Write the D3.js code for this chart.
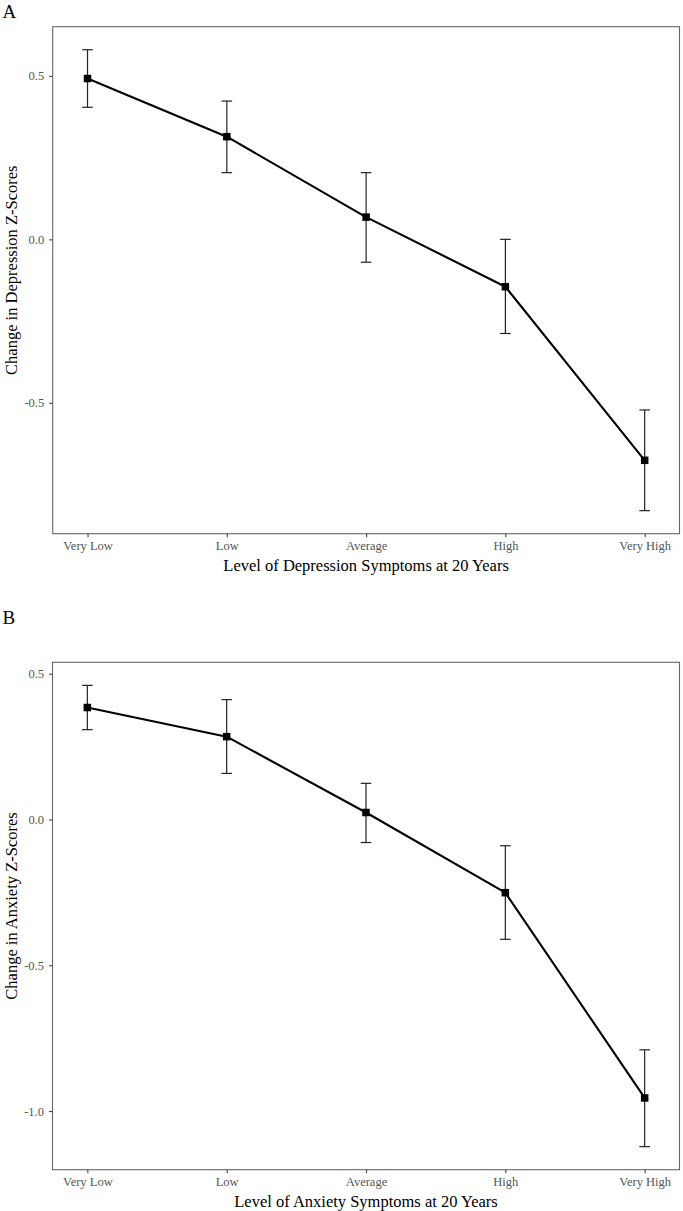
<!DOCTYPE html>
<html>
<head>
<meta charset="utf-8">
<script src="https://cdn.jsdelivr.net/npm/d3@7/dist/d3.min.js"></script>
<style>
  html, body { margin: 0; padding: 0; background: #fff; }
  svg { display: block; }
  text { font-family: "Liberation Serif", "Times New Roman", serif; }
</style>
</head>
<body>
<svg id="chart" width="683" height="1211"></svg>
<script>
// ---- data ----
const categories = ["Very Low", "Low", "Average", "High", "Very High"];

const depMean  = [0.492, 0.314, 0.068, -0.145, -0.676];
const depLower = [0.404, 0.204, -0.070, -0.288, -0.830];
const depUpper = [0.580, 0.423, 0.204, 0.000, -0.522];
const depTicks = [-0.5, 0.0, 0.5];

const anxMean  = [0.384, 0.284, 0.024, -0.251, -0.955];
const anxLower = [0.308, 0.158, -0.079, -0.411, -1.122];
const anxUpper = [0.460, 0.411, 0.124, -0.090, -0.790];
const anxTicks = [-1.0, -0.5, 0.0, 0.5];

const panels = [
  { tag: "A", mean: depMean, lower: depLower, upper: depUpper, ticks: depTicks,
    yTitle: "Change in Depression Z-Scores", xTitle: "Level of Depression Symptoms at 20 Years",
    box: { left: 52.7, right: 679.5, top: 26.7, bottom: 533.7 }, tagY: 18 },
  { tag: "B", mean: anxMean, lower: anxLower, upper: anxUpper, ticks: anxTicks,
    yTitle: "Change in Anxiety Z-Scores", xTitle: "Level of Anxiety Symptoms at 20 Years",
    box: { left: 52.5, right: 679.5, top: 662.3, bottom: 1169.7 }, tagY: 623.5 }
];

const svg = d3.select("#chart");

panels.forEach(p => {
  const b = p.box;
  const lo = d3.min(p.lower), hi = d3.max(p.upper);
  const pad = (hi - lo) * 0.05;
  const y = d3.scaleLinear().domain([lo - pad, hi + pad]).range([b.bottom, b.top]);
  const x = d3.scalePoint().domain(categories).range([b.left, b.right]).padding(0.25);

  const g = svg.append("g");

  // panel tag
  g.append("text").attr("x", 2.5).attr("y", p.tagY)
    .attr("font-size", 19).attr("fill", "#000").text(p.tag);

  // panel border
  g.append("rect")
    .attr("x", b.left).attr("y", b.top)
    .attr("width", b.right - b.left).attr("height", b.bottom - b.top)
    .attr("fill", "none").attr("stroke", "#666").attr("stroke-width", 1.1);

  // y axis
  const yAxis = d3.axisLeft(y).tickValues(p.ticks).tickFormat(d => d.toFixed(1))
    .tickSize(3.5).tickPadding(5);
  const ya = g.append("g").attr("transform", `translate(${b.left},0)`).call(yAxis);
  ya.select(".domain").remove();
  ya.selectAll(".tick line").attr("stroke", "#444").attr("stroke-width", 1.1);
  ya.selectAll(".tick text").attr("fill", "#555").attr("font-size", 12.5)
    .style("font-family", "'Liberation Serif', serif");

  // x axis
  const xAxis = d3.axisBottom(x).tickSize(3.5).tickPadding(4);
  const xa = g.append("g").attr("transform", `translate(0,${b.bottom})`).call(xAxis);
  xa.select(".domain").remove();
  xa.selectAll(".tick line").attr("stroke", "#444").attr("stroke-width", 1.1);
  xa.selectAll(".tick text").attr("fill", "#555").attr("font-size", 12.5)
    .style("font-family", "'Liberation Serif', serif");

  // axis titles
  g.append("text")
    .attr("x", (b.left + b.right) / 2).attr("y", b.bottom + 37)
    .attr("text-anchor", "middle").attr("font-size", 16.5).attr("fill", "#000")
    .text(p.xTitle);
  g.append("text")
    .attr("transform", `translate(17,${(b.top + b.bottom) / 2 - 10}) rotate(-90)`)
    .attr("text-anchor", "middle").attr("font-size", 16.5).attr("fill", "#000")
    .text(p.yTitle);

  const rows = categories.map((c, i) => ({ c, m: p.mean[i], l: p.lower[i], u: p.upper[i] }));

  // error bars
  const eb = g.append("g").attr("stroke", "#222").attr("stroke-width", 1.2).attr("fill", "none");
  eb.selectAll("line.v").data(rows).join("line").attr("class", "v")
    .attr("x1", d => x(d.c)).attr("x2", d => x(d.c))
    .attr("y1", d => y(d.u)).attr("y2", d => y(d.l));
  eb.selectAll("line.t").data(rows).join("line").attr("class", "t")
    .attr("x1", d => x(d.c) - 5.3).attr("x2", d => x(d.c) + 5.3)
    .attr("y1", d => y(d.u)).attr("y2", d => y(d.u));
  eb.selectAll("line.b").data(rows).join("line").attr("class", "b")
    .attr("x1", d => x(d.c) - 5.3).attr("x2", d => x(d.c) + 5.3)
    .attr("y1", d => y(d.l)).attr("y2", d => y(d.l));

  // line
  const line = d3.line().x(d => x(d.c)).y(d => y(d.m));
  g.append("path").datum(rows).attr("d", line)
    .attr("fill", "none").attr("stroke", "#000").attr("stroke-width", 2.1)
    .attr("stroke-linejoin", "round");

  // points
  const s = 7.5;
  g.selectAll("rect.pt").data(rows).join("rect").attr("class", "pt")
    .attr("x", d => x(d.c) - s / 2).attr("y", d => y(d.m) - s / 2)
    .attr("width", s).attr("height", s).attr("fill", "#000");
});
</script>
</body>
</html>
